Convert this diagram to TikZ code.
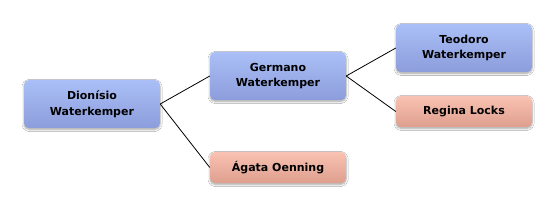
\documentclass[tikz,border=0pt]{standalone}
\usepackage{fontspec}
\setmainfont{DejaVu Sans}
\usetikzlibrary{shadows.blur}
\definecolor{bluetop}{HTML}{AABFF7}
\definecolor{bluebot}{HTML}{8C9DDB}
\definecolor{saltop}{HTML}{F9C2B2}
\definecolor{salbot}{HTML}{DE9F8E}
\tikzset{
  box/.style={rounded corners=5pt, minimum width=136pt, align=center,
    font=\fontsize{11}{15.5}\selectfont\bfseries, text=black,
    blur shadow={shadow blur steps=6, shadow xshift=0pt, shadow yshift=-1.5pt, shadow opacity=35, shadow blur radius=2pt},
    inner sep=0pt},
  bluebox/.style={box, minimum height=48pt, top color=bluetop, bottom color=bluebot},
  salbox/.style={box, minimum height=31pt, top color=saltop, bottom color=salbot},
  link/.style={draw=black, line width=0.8pt}
}
\begin{document}
\begin{tikzpicture}[x=1pt,y=-1pt]
\useasboundingbox[fill=white] (0,0) rectangle (556,208);
\node[bluebox] (d) at (92,104) {Dionísio\\Waterkemper};
\node[bluebox] (g) at (278,76) {Germano\\Waterkemper};
\node[bluebox] (t) at (464,48) {Teodoro\\Waterkemper};
\node[salbox] (r) at (464,111.5) {Regina Locks};
\node[salbox] (a) at (278,167.5) {Ágata Oenning};
\draw[link] (d.east) -- (g.west);
\draw[link] (d.east) -- (a.west);
\draw[link] (g.east) -- (t.west);
\draw[link] (g.east) -- (r.west);
\end{tikzpicture}
\end{document}
